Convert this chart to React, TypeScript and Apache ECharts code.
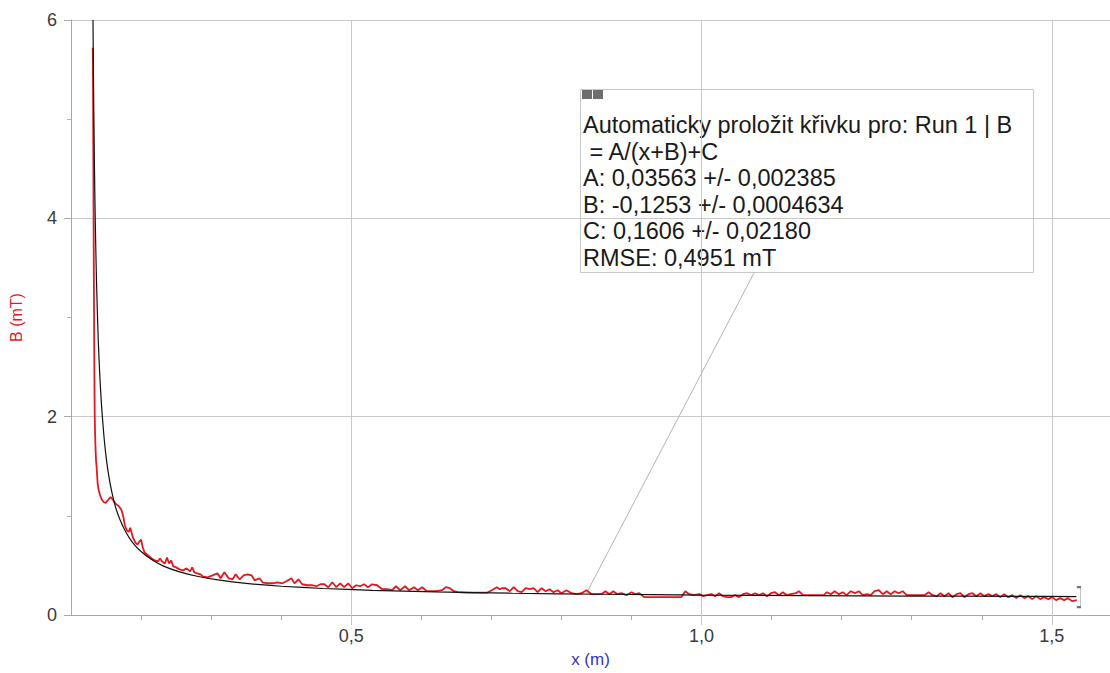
import React, { useEffect, useRef } from "react";
import * as echarts from "echarts";

// Measured run (Run 1 | B), x in m, B in mT
const runX = [
  0.131, 0.1313, 0.1316, 0.1319, 0.1322, 0.1326, 0.133, 0.1334, 0.1338, 0.1343,
  0.135, 0.1358, 0.1365, 0.1372, 0.138, 0.1392, 0.141, 0.1435, 0.1465, 0.1495,
  0.153, 0.1565, 0.16, 0.164, 0.168, 0.172, 0.175, 0.177, 0.18, 0.1825,
  0.1845, 0.1865, 0.1885, 0.192, 0.195, 0.1975, 0.2, 0.2025, 0.205, 0.21,
  0.215, 0.22, 0.224, 0.227, 0.23, 0.234, 0.237, 0.24, 0.243, 0.246,
  0.25, 0.255, 0.26, 0.265, 0.27, 0.273, 0.276, 0.28, 0.285, 0.288,
  0.295, 0.302, 0.309, 0.3135, 0.319, 0.325, 0.3307, 0.335, 0.3407, 0.3464,
  0.352, 0.3577, 0.362, 0.369, 0.3734, 0.3805, 0.388, 0.3947, 0.4018, 0.4075,
  0.4146, 0.419, 0.4246, 0.43, 0.4374, 0.4445, 0.4502, 0.456, 0.4616, 0.4673,
  0.473, 0.4787, 0.4843, 0.49, 0.4957, 0.5014, 0.507, 0.5127, 0.5184, 0.524,
  0.5298, 0.537, 0.544, 0.551, 0.5583, 0.564, 0.5697, 0.5768, 0.5825, 0.5896,
  0.5953, 0.601, 0.608, 0.615, 0.6223, 0.6294, 0.635, 0.6407, 0.6464, 0.652,
  0.665, 0.679, 0.6935, 0.7006, 0.7077, 0.712, 0.7149, 0.7206, 0.7263, 0.732,
  0.7376, 0.7433, 0.749, 0.7547, 0.7604, 0.766, 0.7717, 0.7774, 0.783, 0.7888,
  0.7945, 0.8, 0.8073, 0.8144, 0.8215, 0.8287, 0.8358, 0.8429, 0.85, 0.857,
  0.8628, 0.8685, 0.874, 0.88, 0.8856, 0.8927, 0.9, 0.9055, 0.9112, 0.918,
  0.935, 0.9477, 0.962, 0.971, 0.9768, 0.9825, 0.9895, 0.9966, 1.0023, 1.008,
  1.0137, 1.0194, 1.025, 1.0308, 1.0365, 1.042, 1.048, 1.0535, 1.059, 1.065,
  1.0707, 1.0763, 1.082, 1.0877, 1.0934, 1.099, 1.1048, 1.1105, 1.116, 1.122,
  1.1276, 1.1347, 1.139, 1.1447, 1.156, 1.1674, 1.1745, 1.1788, 1.1845, 1.19,
  1.196, 1.2016, 1.207, 1.213, 1.219, 1.2245, 1.2302, 1.236, 1.2415, 1.247,
  1.253, 1.2586, 1.2643, 1.27, 1.2757, 1.2814, 1.287, 1.2928, 1.3013, 1.3098,
  1.3184, 1.324, 1.3297, 1.3354, 1.341, 1.3468, 1.3525, 1.358, 1.364, 1.3695,
  1.375, 1.381, 1.3866, 1.3923, 1.398, 1.4037, 1.4094, 1.415, 1.4208, 1.4265,
  1.432, 1.438, 1.4436, 1.4493, 1.455, 1.4607, 1.4664, 1.472, 1.4778, 1.4835,
  1.489, 1.495, 1.5005, 1.506, 1.512, 1.5175, 1.523, 1.529, 1.5356,
];
const runB = [
  5.72, 5.55, 5.1, 4.6, 4.05, 3.45, 2.9, 2.4, 2.05, 1.85,
  1.68, 1.55, 1.5, 1.42, 1.33, 1.27, 1.22, 1.17, 1.14, 1.13,
  1.16, 1.19, 1.16, 1.12, 1.1, 1.06, 0.98, 0.9, 0.85, 0.84,
  0.88, 0.83, 0.78, 0.73, 0.71, 0.74, 0.76, 0.68, 0.63, 0.6,
  0.57, 0.55, 0.54, 0.57, 0.54, 0.52, 0.58, 0.52, 0.55, 0.49,
  0.48, 0.46, 0.45, 0.47, 0.44, 0.48, 0.43, 0.42, 0.41, 0.39,
  0.38, 0.4, 0.42, 0.37, 0.43, 0.37, 0.36, 0.41, 0.36, 0.4,
  0.41, 0.4, 0.35, 0.37, 0.33, 0.32, 0.32, 0.33, 0.32, 0.34,
  0.37, 0.32, 0.36, 0.31, 0.3, 0.3, 0.29, 0.31, 0.31, 0.28,
  0.33, 0.28, 0.32, 0.28, 0.32, 0.27, 0.3, 0.29, 0.31, 0.28,
  0.31, 0.3, 0.26, 0.26, 0.25, 0.29, 0.25, 0.29, 0.25, 0.28,
  0.25, 0.28, 0.24, 0.24, 0.24, 0.25, 0.28, 0.27, 0.24, 0.23,
  0.225, 0.225, 0.225, 0.25, 0.28, 0.26, 0.27, 0.27, 0.24, 0.28,
  0.24, 0.23, 0.27, 0.26, 0.27, 0.23, 0.27, 0.24, 0.26, 0.23,
  0.25, 0.22, 0.25, 0.22, 0.21, 0.22, 0.25, 0.21, 0.21, 0.21,
  0.24, 0.21, 0.24, 0.21, 0.22, 0.2, 0.23, 0.21, 0.22, 0.18,
  0.18, 0.18, 0.18, 0.18, 0.24, 0.21, 0.2, 0.21, 0.19, 0.2,
  0.21, 0.19, 0.22, 0.19, 0.18, 0.18, 0.2, 0.18, 0.21, 0.22,
  0.2, 0.22, 0.2, 0.22, 0.19, 0.22, 0.23, 0.2, 0.23, 0.2,
  0.21, 0.22, 0.24, 0.2, 0.2, 0.2, 0.2, 0.23, 0.21, 0.24,
  0.21, 0.23, 0.2, 0.24, 0.22, 0.24, 0.2, 0.21, 0.2, 0.24,
  0.25, 0.21, 0.24, 0.21, 0.24, 0.22, 0.24, 0.2, 0.2, 0.2,
  0.2, 0.23, 0.2, 0.19, 0.22, 0.19, 0.22, 0.18, 0.21, 0.22,
  0.18, 0.21, 0.22, 0.19, 0.22, 0.19, 0.21, 0.19, 0.21, 0.18,
  0.21, 0.18, 0.2, 0.17, 0.2, 0.17, 0.19, 0.16, 0.19, 0.16,
  0.18, 0.16, 0.18, 0.15, 0.17, 0.15, 0.17, 0.14, 0.15,
];

// Automatic fit curve B = A/(x+B)+C
const fitX = [
  0.1314, 0.1318, 0.1323, 0.133, 0.1338, 0.1348, 0.136, 0.1375, 0.1392, 0.1412,
  0.1435, 0.1462, 0.1495, 0.1535, 0.158, 0.1635, 0.17, 0.178, 0.188, 0.2,
  0.215, 0.233, 0.255, 0.28, 0.31, 0.35, 0.4, 0.46, 0.53, 0.62,
  0.73, 0.86, 1.0, 1.15, 1.3, 1.45, 1.535,
];
const fitB = [
  6.0, 5.64, 5.25, 4.79, 4.35, 3.91, 3.49, 3.08, 2.72, 2.4,
  2.12, 1.87, 1.63, 1.42, 1.25, 1.09, 0.96, 0.84, 0.73, 0.64,
  0.56, 0.49, 0.435, 0.391, 0.354, 0.319, 0.29, 0.267, 0.249, 0.233,
  0.2195, 0.209, 0.201, 0.195, 0.191, 0.188, 0.186,
];

const xLabelValues = [0.5, 1.0, 1.5];
const xMinorTickValues = [0.2, 0.3, 0.4, 0.5, 0.6, 0.7, 0.8, 0.9, 1.0, 1.1, 1.2, 1.3, 1.4, 1.5];
const leaderX = [1.075, 0.8358];
const leaderB = [3.45, 0.22];
const fitLines = [
  "Automaticky proložit křivku pro: Run 1 | B",
  " = A/(x+B)+C",
  "A: 0,03563 +/- 0,002385",
  "B: -0,1253 +/- 0,0004634",
  "C: 0,1606 +/- 0,02180",
  "RMSE: 0,4951 mT",
];

const FONT = '"Liberation Sans", Arial, Helvetica, sans-serif';

export default function App() {
  const ref = useRef<HTMLDivElement>(null);
  useEffect(() => {
    if (!ref.current) return;
    const chart = echarts.init(ref.current, undefined, { renderer: "svg" });
    const run = runX.map((x, i) => [x, runB[i]]);
    const fit = fitX.map((x, i) => [x, fitB[i]]);
    const leader = leaderX.map((x, i) => [x, leaderB[i]]);
    const last = run[run.length - 1];
    const lineY0 = 125;
    const lineStep = 26.6;
    chart.setOption({
      animation: false,
      backgroundColor: "#ffffff",
      grid: { left: 68, top: 20, right: 0, bottom: 53, containLabel: false },
      xAxis: [
        {
          type: "value",
          min: 0.1,
          max: 1.583,
          axisLine: { show: true, onZero: false, lineStyle: { color: "#a8a8a8", width: 1 } },
          axisTick: { show: true, customValues: xMinorTickValues, length: 5, lineStyle: { color: "#a8a8a8" } },
          axisLabel: {
            show: true,
            customValues: xLabelValues,
            formatter: (v: number) => v.toFixed(1).replace(".", ","),
            color: "#3a3a3a",
            fontSize: 18,
            fontFamily: FONT,
            margin: 12,
          },
          splitLine: { show: false },
          name: "x (m)",
          nameLocation: "middle",
          nameGap: 36,
          nameTextStyle: { color: "#3434c4", fontSize: 17, fontFamily: FONT },
        },
        {
          type: "value",
          min: 0.1,
          max: 1.583,
          position: "bottom",
          axisLine: { show: false },
          axisTick: { show: true, customValues: xLabelValues, length: 10, lineStyle: { color: "#c4c4c4" } },
          axisLabel: { show: false },
          splitLine: { show: false },
        },
      ],
      yAxis: {
        type: "value",
        min: 0,
        max: 6,
        interval: 2,
        axisLine: { show: true, lineStyle: { color: "#a8a8a8", width: 1 } },
        axisTick: { show: true, length: 7, lineStyle: { color: "#a8a8a8" } },
        minorTick: { show: true, splitNumber: 2, length: 4, lineStyle: { color: "#b0b0b0" } },
        splitLine: { show: true, lineStyle: { color: "#c8c8c8", width: 1 } },
        axisLabel: { color: "#3a3a3a", fontSize: 18, fontFamily: FONT, margin: 14 },
        name: "B (mT)",
        nameLocation: "middle",
        nameGap: 47,
        nameTextStyle: { color: "#e3191f", fontSize: 16, fontFamily: FONT },
      },
      series: [
        {
          type: "line",
          data: [],
          z: 1,
          silent: true,
          markLine: {
            z: 1,
            silent: true,
            symbol: ["none", "none"],
            label: { show: false },
            lineStyle: { color: "#c8c8c8", width: 1, type: "solid" },
            emphasis: { disabled: true },
            data: xLabelValues.map((v) => ({ xAxis: v })),
          },
        },
        {
          type: "line",
          data: leader,
          z: 2,
          silent: true,
          symbol: "none",
          lineStyle: { color: "#b4b4b4", width: 1 },
        },
        {
          type: "line",
          data: run,
          z: 3,
          silent: true,
          symbol: "none",
          lineStyle: { color: "#e3191f", width: 1.8 },
        },
        {
          type: "line",
          data: fit,
          z: 4,
          silent: true,
          symbol: "none",
          smooth: 0.2,
          lineStyle: { color: "#111111", width: 1.2 },
        },
        {
          type: "scatter",
          data: [last],
          z: 5,
          silent: true,
          symbol: "path://M0,0 L3,0 L3,20 L0,20",
          symbolSize: [4, 20],
          symbolOffset: [2, -3],
          itemStyle: { color: "none", borderColor: "#555", borderWidth: 1 },
        },
      ],
      graphic: [
        {
          type: "group",
          z: 20,
          children: [
            {
              type: "rect",
              shape: { x: 580.5, y: 89.5, width: 453, height: 183 },
              style: { fill: "#ffffff", stroke: "#c8c8c8", lineWidth: 1 },
            },
            {
              type: "rect",
              shape: { x: 582, y: 90, width: 10, height: 9 },
              style: { fill: "#6e6e6e" },
            },
            {
              type: "rect",
              shape: { x: 593, y: 90, width: 10, height: 9 },
              style: { fill: "#6e6e6e" },
            },
            ...fitLines.map((t, i) => ({
              type: "text",
              x: 583,
              y: lineY0 + i * lineStep,
              style: {
                text: t,
                fill: "#1a1a1a",
                fontSize: 23.5,
                fontFamily: FONT,
                verticalAlign: "middle",
                align: "left",
              },
            })),
          ],
        },
      ],
    });
    return () => chart.dispose();
  }, []);
  return (
    <div
      ref={ref}
      style={{ position: "absolute", left: 0, top: 0, width: 1110, height: 673, background: "#fff" }}
    />
  );
}
